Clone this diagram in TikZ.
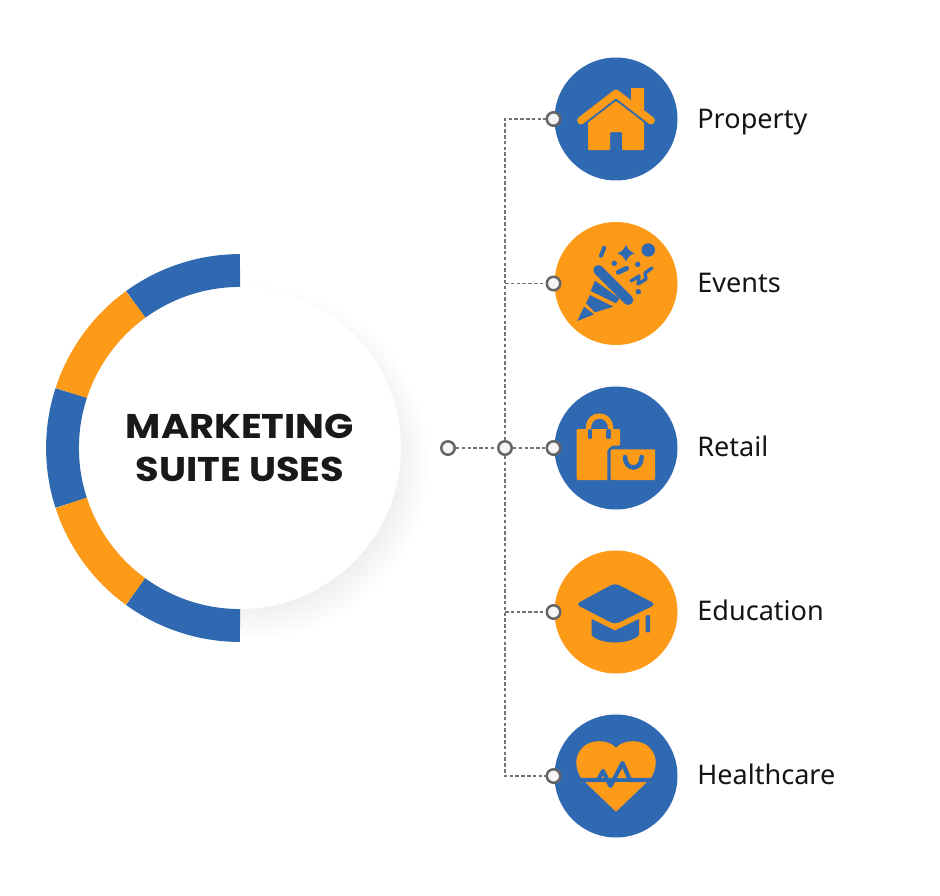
\documentclass[tikz,border=0pt]{standalone}
\usepackage{fontspec}
\setmainfont{Noto Sans}
\newfontfamily\titlefont[FakeStretch=1.12]{Poppins}
\definecolor{suiteblue}{HTML}{2F69B1}
\definecolor{suiteorange}{HTML}{FD9A17}
\pgfdeclareradialshading{softshadow}{\pgfpoint{0bp}{0bp}}{color(0bp)=(black!9); color(18bp)=(black!9); color(21bp)=(black!5); color(25bp)=(white); color(50bp)=(white)}

\begin{document}
\begin{tikzpicture}[x=0.02cm,y=-0.02cm]
\tikzstyle{usecircle}=[circle,minimum size=2.46cm,inner sep=0pt];
\tikzstyle{joint}=[circle,draw=black!60,fill=black!4,line width=1.4pt,minimum size=0.27cm,inner sep=0pt];
\tikzstyle{link}=[draw=black!55,dashed,line width=0.7pt,dash pattern=on 2pt off 1.3pt];
\tikzstyle{uselabel}=[anchor=base west,inner sep=0pt,text=black!92,font=\fontsize{15.4}{18}\selectfont];
\tikzstyle{ring}=[line width=18.7pt];
\useasboundingbox (0,0) rectangle (940,896);

% shadow, ring and title
\shade[shading=softshadow] (252,462) circle (178);
\node (suite) [circle,fill=white,minimum size=6.44cm,inner sep=0pt,align=center,text=black!90,
	font=\titlefont\bfseries\fontsize{19.5}{24.4}\selectfont] at (240,448) {MARKETING\\SUITE USES};
\draw[ring,suiteblue] ([shift={(270:177.5)}]suite.center) arc[start angle=270,end angle=234,radius=177.5];
\draw[ring,suiteorange] ([shift={(234:177.5)}]suite.center) arc[start angle=234,end angle=198,radius=177.5];
\draw[ring,suiteblue] ([shift={(198:177.5)}]suite.center) arc[start angle=198,end angle=162,radius=177.5];
\draw[ring,suiteorange] ([shift={(162:177.5)}]suite.center) arc[start angle=162,end angle=126,radius=177.5];
\draw[ring,suiteblue] ([shift={(126:177.5)}]suite.center) arc[start angle=126,end angle=90,radius=177.5];

% use circles
\node (property) [usecircle,fill=suiteblue] at (616,119) {};
\node (events) [usecircle,fill=suiteorange] at (616,283.5) {};
\node (retail) [usecircle,fill=suiteblue] at (616,448) {};
\node (education) [usecircle,fill=suiteorange] at (616,612) {};
\node (healthcare) [usecircle,fill=suiteblue] at (616,776) {};

% labels
\node (propertytext) [uselabel] at (697,128.2) {Property};
\node (eventstext) [uselabel] at (697,292.2) {Events};
\node (retailtext) [uselabel] at (697,456.2) {Retail};
\node (educationtext) [uselabel] at (697,620.2) {Education};
\node (healthcaretext) [uselabel] at (697,784.2) {Healthcare};

% joints and connectors
\node (start) [joint] at (448,448) {};
\node (hub) [joint] at (505,448) {};
\node (jproperty) [joint] at (553.5,119) {};
\node (jevents) [joint] at (553.5,283.5) {};
\node (jretail) [joint] at (553.5,448) {};
\node (jeducation) [joint] at (553.5,612) {};
\node (jhealthcare) [joint] at (553.5,776) {};
\path[link] (start) -- (hub);
\path[link] (hub) -- (jretail);
\path[link] (hub) |- (jproperty);
\path[link] (hub) |- (jhealthcare);
\path[link] (jevents -| hub) -- (jevents);
\path[link] (jeducation -| hub) -- (jeducation);

% house
\fill[suiteorange] (631,88) -- (644,88) -- (644,112) -- (631,100) -- cycle;
\draw[suiteorange,line width=4.4pt,line cap=round,line join=round] (581,120.5) -- (616,93.5) -- (651,120.5);
\fill[suiteorange,rounded corners=0.6pt] (588,122.6) -- (616,101) -- (644,122.6) -- (644,150) -- (622,150) -- (622,132)
	-- (610,132) -- (610,150) -- (588,150) -- cycle;

% party popper
\draw[suiteblue,line width=5.7pt,line cap=round] (598.3,270) -- (628.3,300);
\fill[suiteblue] (577.3,321) -- (594,314.3) -- (584,306.7) -- cycle;
\fill[suiteblue] (586,303.3) -- (590,295) -- (613.3,306.7) -- (595,312.3) -- cycle;
\fill[suiteblue] (590.7,291) -- (595,280.7) -- (619.3,298.3) -- (616,303.3) -- cycle;
\fill[suiteblue] (648.3,250) circle (6.7);
\fill[suiteblue] (626,245) .. controls (628,249.5) and (630,251.5) .. (634.5,253.3) .. controls (630,255) and (628,257) .. (626,261.5)
	.. controls (624,257) and (622,255) .. (617.5,253.3) .. controls (622,251.5) and (624,249.5) .. (626,245) -- cycle;
\draw[suiteblue,line width=2.3pt,line cap=round] (604.3,247.7) -- (601,255.7);
\draw[suiteblue,line width=2.8pt,line cap=round] (618.3,272.3) -- (626.7,268.3);
\fill[suiteblue] (614.3,263.3) circle (2.7);
\fill[suiteblue] (637.7,264.3) circle (2.7);
\fill[suiteblue] (638.3,291.7) circle (2.7);
\draw[suiteblue,line width=1.9pt,line join=round,line cap=round] (631,281) -- (639,276) -- (638,284) -- (646,279) -- (645,273) -- (652,268);

% shopping bags
\draw[suiteorange,line width=3pt] (588.5,430) -- (588.5,427) arc[start angle=180,end angle=360,radius=11] -- (610.5,430);
\fill[suiteorange,rounded corners=0.6pt] (576.7,429) -- (620,429) -- (620,445.7) -- (612,445.7) -- (607.3,450) -- (607.3,480) -- (576.7,480) -- cycle;
\draw[suiteblue,line width=2.4pt,line cap=round] (590,431) -- (590,437);
\draw[suiteblue,line width=2.4pt,line cap=round] (608.5,431) -- (608.5,437);
\fill[suiteorange,rounded corners=0.6pt] (610.7,449.3) rectangle (655,480);
\draw[suiteblue,line width=2.6pt,line cap=round] (625,457) .. controls (625,471) and (641.7,471) .. (641.7,457);

% graduation cap
\fill[suiteblue,rounded corners=2.5pt] (615,583) -- (656,604.3) -- (615,624.5) -- (575.7,604.3) -- cycle;
\fill[suiteblue] (591.7,619) -- (615,630.5) -- (639,619) -- (639,635) .. controls (630,645) and (600,645) .. (591.7,635) -- cycle;
\fill[suiteblue,rounded corners=0.6pt] (645.7,615) rectangle (650,632.3);

% heart
\fill[suiteorange] (616,747.7) .. controls (608,739) and (590,739) .. (582,748) .. controls (574,757) and (575,768) .. (581,778)
	-- (651,778) .. controls (657,768) and (658,757) .. (650,748) .. controls (642,739) and (624,739) .. cycle;
\fill[suiteorange] (585,782) -- (647,782) -- (616,811.7) -- cycle;
\draw[suiteblue,line width=2.4pt,line join=round] (580,780) -- (598,780) -- (603,771) -- (610.5,786) -- (622.5,763) -- (630,780) -- (652,780);
\end{tikzpicture}
\end{document}
